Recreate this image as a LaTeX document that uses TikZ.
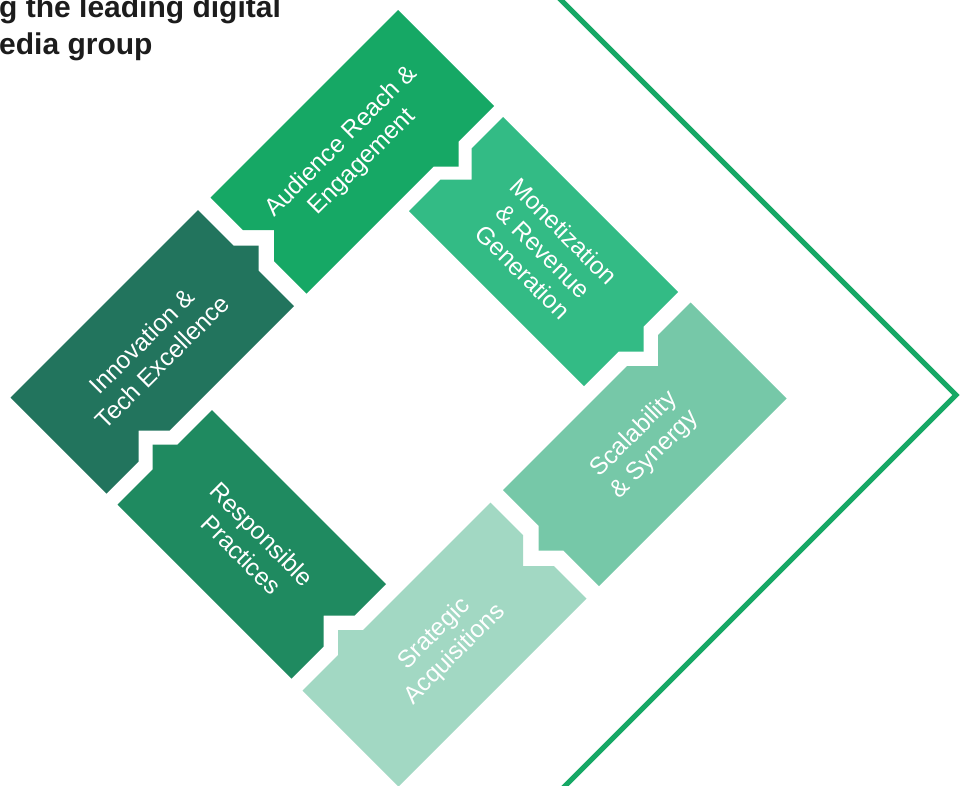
\documentclass[tikz,border=0pt]{standalone}
\usepackage{fontspec}
\setmainfont{Liberation Sans}
\definecolor{innovationgreen}{HTML}{22745D}
\definecolor{audiencegreen}{HTML}{16A865}
\definecolor{monetizationgreen}{HTML}{33BB85}
\definecolor{scalabilitygreen}{HTML}{76C8A8}
\definecolor{acquisitionsgreen}{HTML}{A2D8C3}
\definecolor{responsiblegreen}{HTML}{1F8A60}
\definecolor{titlegray}{HTML}{1C1C1C}

\begin{document}
\begin{tikzpicture}[x=1pt,y=-1pt,
    piecetext/.style={text=white,align=center,inner sep=0pt,font=\fontsize{24.5}{29}\selectfont},
    rising/.style={piecetext,rotate=45},
    falling/.style={piecetext,rotate=-45},
    titletext/.style={anchor=base west,inner sep=0pt,text=titlegray,font=\bfseries\fontsize{30}{36}\selectfont}]
    \clip (0,0) rectangle (961,785);
    \begin{scope}[x={(0.5pt,-0.5pt)},y={(0.5pt,0.5pt)}]
        \fill[innovationgreen] (408,-387) -- (600,-387) -- (600,-323) -- (569,-292) -- (600,-261) -- (600,-12)
            -- (529,-12) -- (504,13) -- (479,-12) -- (408,-12) -- cycle;
        \fill[audiencegreen] (408,13) -- (473,13) -- (504,44) -- (535,13) -- (600,13) -- (600,267)
            -- (625,292) -- (600,317) -- (600,388) -- (408,388) -- cycle;
        \fill[monetizationgreen] (620,198) -- (970,198) -- (970,267) -- (995,292) -- (970,317) -- (970,386)
            -- (620,386) -- (620,323) -- (651,292) -- (620,261) -- cycle;
        \fill[scalabilitygreen] (993,13) -- (1064,13) -- (1089,-12) -- (1114,13) -- (1185,13) -- (1185,388)
            -- (993,388) -- (993,323) -- (1024,292) -- (993,261) -- cycle;
        \fill[acquisitionsgreen] (993,-388) -- (1185,-388) -- (1185,-12) -- (1120,-12) -- (1089,-43) -- (1058,-12)
            -- (993,-12) -- (993,-267) -- (968,-292) -- (993,-317) -- cycle;
        \fill[responsiblegreen] (622,-387) -- (970,-387) -- (970,-323) -- (939,-292) -- (970,-261) -- (970,-198)
            -- (622,-198) -- (622,-267) -- (597,-292) -- (622,-317) -- cycle;
        \coordinate (frametop) at (400,561);
        \coordinate (frametip) at (1351,561);
        \coordinate (framebottom) at (1351,-400);
        \draw[audiencegreen,line width=5pt,miter limit=4] (frametop) -- (frametip) -- (framebottom);
    \end{scope}
    \node[titletext] (titleone) at (-1,17) {g the leading digital};
    \node[titletext] (titletwo) at (-1,54) {edia group};
    \node[rising] (innovation) at (152,351.5) {Innovation \&\\Tech Excellence};
    \node[rising] (audience) at (352,152) {Audience Reach \&\\Engagement};
    \node[falling] (monetization) at (543.5,251.5) {Monetization\\\& Revenue\\Generation};
    \node[rising] (scalability) at (644.5,444.5) {Scalability\\\& Synergy};
    \node[rising] (acquisitions) at (444.75,644.25) {Srategic\\Acquisitions};
    \node[falling] (responsible) at (251.75,544.25) {Responsible\\Practices};
\end{tikzpicture}
\end{document}
